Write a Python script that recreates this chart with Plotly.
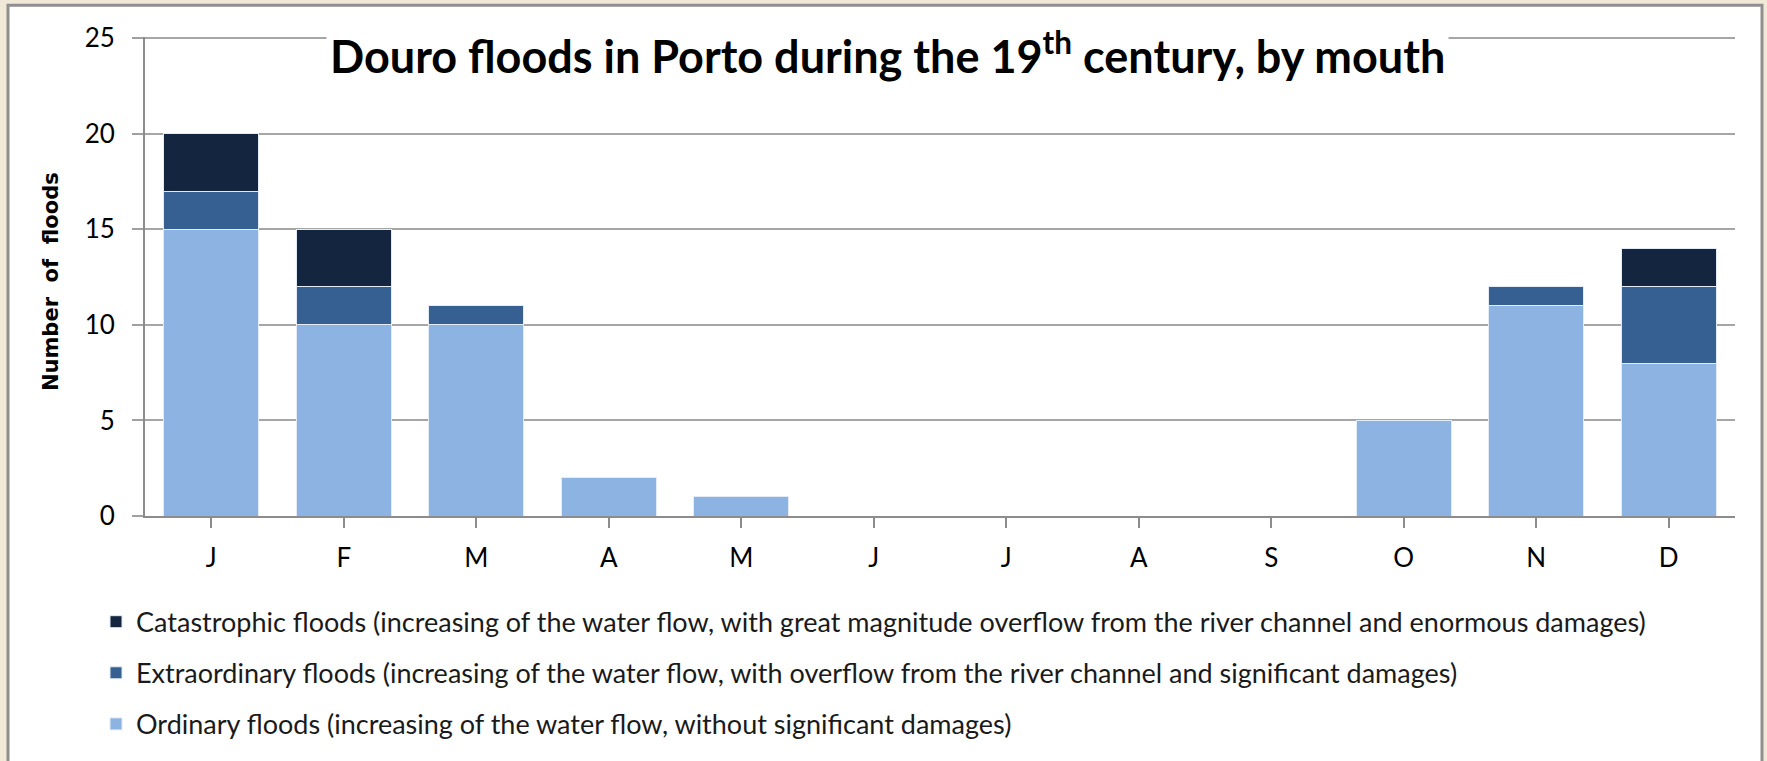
import plotly.graph_objects as go

# Monthly flood counts by class
months = ["J", "F", "M", "A", "M", "J", "J", "A", "S", "O", "N", "D"]
ordinary = [15, 10, 10, 2, 1, 0, 0, 0, 0, 5, 11, 8]
extraordinary = [2, 2, 1, 0, 0, 0, 0, 0, 0, 0, 1, 4]
catastrophic = [3, 3, 0, 0, 0, 0, 0, 0, 0, 0, 0, 2]

series_names = [
    "Ordinary floods (increasing of the water flow, without significant damages)",
    "Extraordinary floods (increasing of the water flow, with overflow from the river channel and significant damages)",
    "Catastrophic floods (increasing of the water flow, with great magnitude overflow from the river channel and enormous damages)",
]
series_colors = ["#8db3e2", "#366092", "#13253f"]
legend_ranks = [3, 2, 1]                 # most severe class listed first
y_ticks = [0, 5, 10, 15, 20, 25]
y_max = 25.06

W, H = 1767, 761
L, R, B = 145, 1735, 518                 # plot area edges in pixels
UNIT = 96.0 / 5                          # pixels per flood
T = B - y_max * UNIT
FONT = "Lato"


def px_x(x):
    return (x - L) / (R - L)


def px_y(y):
    return (B - y) / (B - T)


# x positions as category indices so the ticks can sit on the boundaries
xs = list(range(len(months)))

fig = go.Figure()
for name, vals, col, rank in zip(series_names, [ordinary, extraordinary, catastrophic],
                                 series_colors, legend_ranks):
    fig.add_trace(go.Bar(
        x=xs, y=vals, name=name, legendgroup=name, legendrank=rank,
        marker=dict(color=col, line=dict(color="#e3ebf6", width=1)),
    ))

fig.update_layout(
    width=W, height=H,
    margin=dict(l=L, r=W - R, t=T, b=H - B, pad=0),
    barmode="stack", bargap=0.283,
    paper_bgcolor="#f1e9d7", plot_bgcolor="white",
    font=dict(family=FONT, color="#000000"),
    showlegend=True,
    legend=dict(
        x=px_x(96), y=px_y(600), xanchor="left", yanchor="top",
        traceorder="grouped", tracegroupgap=13,
        font=dict(family=FONT, size=27, color="#1a1a1a"),
        bgcolor="rgba(0,0,0,0)", itemwidth=30,
    ),
    xaxis=dict(
        tickmode="array", tickvals=xs, ticktext=months,
        range=[-0.5, len(months) - 0.5],
        showline=True, linecolor="#8c8c8c", linewidth=2,
        ticks="outside", tickson="boundaries", ticklen=10, tickwidth=2, tickcolor="#8c8c8c",
        tickfont=dict(family=FONT, size=26, color="#000000"),
        ticklabelstandoff=8,
        showgrid=False, zeroline=False,
    ),
    yaxis=dict(
        range=[0, y_max], tickvals=y_ticks,
        showline=True, linecolor="#8c8c8c", linewidth=2,
        ticks="outside", ticklen=11, tickwidth=2, tickcolor="#a0a0a0",
        tickfont=dict(family=FONT, size=26, color="#000000"),
        ticklabelstandoff=12,
        showgrid=True, gridcolor="#a6a6a6", gridwidth=2, zeroline=False,
    ),
    shapes=[
        # white chart panel on the parchment background
        dict(type="rect", xref="paper", yref="paper", layer="below",
             x0=px_x(8), x1=px_x(1762), y0=px_y(790), y1=px_y(5),
             fillcolor="white", line=dict(color="#8f8f8f", width=3)),
    ],
    annotations=[
        dict(text="Douro floods in Porto during the 19<sup>th</sup> century, by mouth",
             xref="paper", yref="paper", x=px_x(887), y=px_y(53),
             xanchor="center", yanchor="middle", showarrow=False,
             font=dict(family=FONT, size=45, weight="bold", color="#000000"),
             bgcolor="white", borderpad=3),
        dict(text="Number\u00a0\u00a0of\u00a0\u00a0floods",
             xref="paper", yref="paper", x=px_x(51), y=px_y(283),
             xanchor="center", yanchor="middle", textangle=-90, showarrow=False,
             font=dict(family="DejaVu Sans", size=21, weight="bold", color="#000000")),
    ],
)

fig.write_html("out.html")
